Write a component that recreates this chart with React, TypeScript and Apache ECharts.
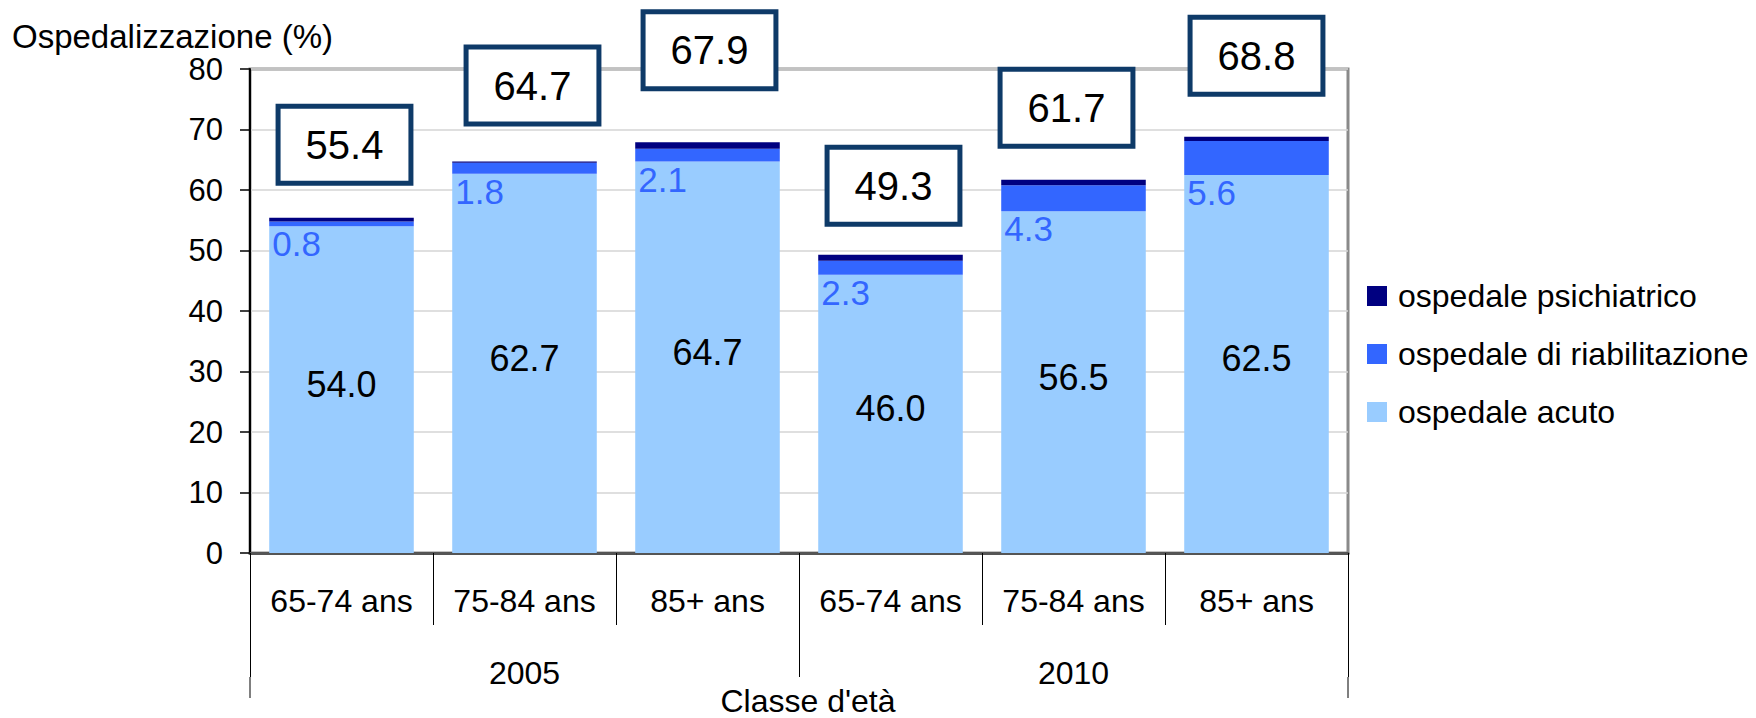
import React, { useEffect, useRef } from 'react';
import * as echarts from 'echarts';

const categories = ['65-74 ans', '75-84 ans', '85+ ans', '65-74 ans', '75-84 ans', '85+ ans'];
const years = ['2005', '2010'];
const acuto = [54.0, 62.7, 64.7, 46.0, 56.5, 62.5];
const riabilitazione = [0.8, 1.8, 2.1, 2.3, 4.3, 5.6];
const psichiatrico = [0.6, 0.2, 1.1, 1.0, 0.9, 0.7];
const totali = [55.4, 64.7, 67.9, 49.3, 61.7, 68.8];
const xAxisName = "Classe d'età";

// label placement tweaks for the boxed totals (pixels)
const totalGap = [37, 40, 56, 33, 36, 45];
const totalDx = [3, 8, 2, 3, -7, 0];

const FONT = 'Liberation Sans, Arial, sans-serif';
const GRID_LEFT = 250;
const GRID_RIGHT = 408;
const GRID_TOP = 69;
const GRID_BOTTOM = 165;
const W = 1756;
const H = 718;

export default function App() {
  const ref = useRef<HTMLDivElement>(null);
  useEffect(() => {
    if (!ref.current) return;
    const chart = echarts.init(ref.current, undefined, { renderer: 'svg' });
    const option: any = {
      animation: false,
      backgroundColor: '#ffffff',
      textStyle: { fontFamily: FONT },
      title: {
        text: 'Ospedalizzazione (%)',
        left: 12,
        top: 20,
        padding: 0,
        textStyle: { fontFamily: FONT, fontSize: 33, fontWeight: 'normal', color: '#000' },
      },
      legend: {
        orient: 'vertical',
        left: 1362,
        top: 275,
        itemWidth: 20,
        itemHeight: 20,
        itemGap: 26,
        icon: 'rect',
        data: ['ospedale psichiatrico', 'ospedale di riabilitazione', 'ospedale acuto'],
        textStyle: { fontFamily: FONT, fontSize: 32, color: '#000', lineHeight: 32, padding: [0, 0, 0, 6] },
      },
      grid: {
        left: GRID_LEFT,
        right: GRID_RIGHT,
        top: GRID_TOP,
        bottom: GRID_BOTTOM,
        containLabel: false,
        outerBoundsMode: 'none',
        show: true,
        borderColor: '#8a8a8a',
        borderWidth: 3,
        backgroundColor: 'transparent',
      },
      xAxis: [
        {
          type: 'category',
          data: categories,
          position: 'bottom',
          axisLine: { lineStyle: { color: '#555', width: 3 } },
          axisTick: { show: true, length: 72, lineStyle: { color: '#000', width: 1 } },
          axisLabel: { fontFamily: FONT, fontSize: 32, color: '#000', margin: 32, interval: 0 },
        },
        {
          type: 'category',
          data: years,
          position: 'bottom',
          offset: 72,
          axisLine: { show: false },
          axisTick: { show: true, length: 52, lineStyle: { color: '#000', width: 1 } },
          axisLabel: { fontFamily: FONT, fontSize: 32, color: '#000', margin: 32, interval: 0 },
        },
      ],
      yAxis: {
        type: 'value',
        min: 0,
        max: 80,
        interval: 10,
        axisLine: { show: true, lineStyle: { color: '#000', width: 2 } },
        axisTick: { show: true, length: 10, lineStyle: { color: '#000', width: 1.5 } },
        axisLabel: { fontFamily: FONT, fontSize: 31, color: '#000', margin: 27 },
        splitLine: { lineStyle: { color: '#d4d4d4', width: 1.5 } },
      },
      series: [
        {
          name: 'ospedale acuto',
          type: 'bar',
          stack: 'tot',
          barCategoryGap: '21%',
          itemStyle: { color: '#99ccff' },
          label: {
            show: true,
            position: 'inside',
            offset: [0, -5],
            fontFamily: FONT,
            fontSize: 36,
            color: '#000',
            formatter: (p: any) => p.value.toFixed(1),
          },
          data: acuto,
        },
        {
          name: 'ospedale di riabilitazione',
          type: 'bar',
          stack: 'tot',
          itemStyle: { color: '#3366ff' },
          label: {
            show: true,
            position: [3, '100%'],
            align: 'left',
            verticalAlign: 'top',
            offset: [0, 0],
            fontFamily: FONT,
            fontSize: 35,
            lineHeight: 35,
            color: '#3366ff',
            formatter: (p: any) => p.value.toFixed(1),
          },
          data: riabilitazione,
        },
        {
          name: 'ospedale psichiatrico',
          type: 'bar',
          stack: 'tot',
          itemStyle: { color: '#000080' },
          label: {
            show: true,
            position: 'top',
            distance: 0,
            fontFamily: FONT,
            fontSize: 40,
            lineHeight: 40,
            color: '#000',
            backgroundColor: '#ffffff',
            borderColor: '#0e3a68',
            borderWidth: 5,
            padding: [16, 25],
            formatter: (p: any) => totali[p.dataIndex].toFixed(1),
          },
          data: psichiatrico.map((v, i) => ({
            value: v,
            label: { offset: [totalDx[i], -totalGap[i]] },
          })),
        },
      ],
      graphic: [
        { type: 'line', shape: { x1: GRID_LEFT, y1: H - GRID_BOTTOM + 124, x2: GRID_LEFT, y2: H - 20 }, style: { stroke: '#000', lineWidth: 1 } },
        { type: 'line', shape: { x1: W - GRID_RIGHT, y1: H - GRID_BOTTOM + 124, x2: W - GRID_RIGHT, y2: H - 20 }, style: { stroke: '#000', lineWidth: 1 } },
        {
          type: 'text',
          x: 808,
          y: 701,
          style: {
            text: xAxisName,
            font: `32px ${FONT}`,
            fill: '#000',
            textAlign: 'center',
            textVerticalAlign: 'middle',
          },
        },
      ],
    };
    chart.setOption(option);
    return () => chart.dispose();
  }, []);
  return <div ref={ref} style={{ position: 'fixed', left: 0, top: 0, width: W, height: H }} />;
}
